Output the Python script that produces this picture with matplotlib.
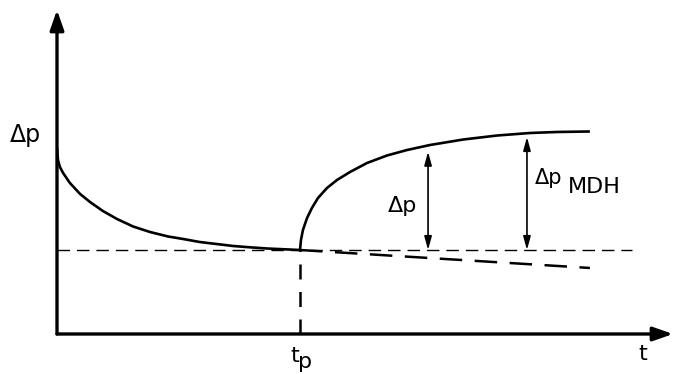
import matplotlib.pyplot as plt

plt.rcParams["font.family"] = ["DejaVu Sans"]

# drawdown period: pressure change vs time (t in units of tp)
t_draw = [0.0, 0.004, 0.012, 0.025, 0.053, 0.095, 0.136, 0.189, 0.247,
          0.313, 0.383, 0.457, 0.519, 0.588, 0.724, 0.794, 0.864, 1.0]
dp_draw = [2.214, 2.071, 1.988, 1.917, 1.798, 1.667, 1.571, 1.464, 1.369,
           1.280, 1.214, 1.161, 1.131, 1.095, 1.048, 1.032, 1.018, 1.0]

# build-up after shut-in at tp
t_build = [1.0, 1.004, 1.012, 1.029, 1.049, 1.074, 1.111, 1.152, 1.206,
           1.276, 1.358, 1.440, 1.535, 1.671, 1.811, 1.947, 2.058, 2.193]
dp_build = [1.0, 1.119, 1.238, 1.381, 1.5, 1.619, 1.738, 1.833, 1.929,
            2.036, 2.125, 2.190, 2.25, 2.315, 2.363, 2.393, 2.405, 2.411]

dp_ref = 1.0            # pressure change at tp
t_ref_end = 2.366       # end of horizontal reference line
t_extrap = [1.0, 2.193]
dp_extrap = [1.0, 0.786]

t_arrow_dp, dp_arrow_top = 1.527, 2.17
t_arrow_mdh, dp_mdh_top = 1.934, 2.345

fig = plt.figure(figsize=(6.74, 3.74), dpi=100)
ax = fig.add_axes([57 / 674, 40 / 374, 617 / 674, 334 / 374])
ax.set_xlim(0, 617 / 243)
ax.set_ylim(0, 334 / 84)
ax.axis("off")

# axes with arrow heads
axis_style = dict(arrowstyle="-|>,head_length=1.2,head_width=0.42",
                  color="black", lw=2.4, shrinkA=0, shrinkB=0)
ax.annotate("", xy=(0, 324 / 84), xytext=(0, 0),
            arrowprops=axis_style, annotation_clip=False)
ax.annotate("", xy=(616 / 243, 0), xytext=(0, 0),
            arrowprops=axis_style, annotation_clip=False)

# curves
ax.plot(t_draw, dp_draw, color="black", lw=1.9, solid_capstyle="butt")
ax.plot(t_build, dp_build, color="black", lw=1.9, solid_capstyle="butt")

# reference lines
ax.plot([0, t_ref_end], [dp_ref, dp_ref], color="black", lw=1.0,
        dashes=(9, 5))
ax.plot(t_extrap, dp_extrap, color="black", lw=1.8, dashes=(9, 5))
ax.plot([1.0, 1.0], [0, dp_ref], color="black", lw=1.8, dashes=(6, 5))

# double-headed arrows
dbl = dict(arrowstyle="<|-|>,head_length=0.8,head_width=0.22",
           color="black", lw=1.2, shrinkA=0, shrinkB=0)
ax.annotate("", xy=(t_arrow_dp, dp_arrow_top), xytext=(t_arrow_dp, dp_ref),
            arrowprops=dbl)
ax.annotate("", xy=(t_arrow_mdh, dp_mdh_top), xytext=(t_arrow_mdh, dp_ref),
            arrowprops=dbl)

# labels
kw = dict(ha="left", va="baseline", clip_on=False)
ax.text(-0.193, 2.286, "Δp", fontsize=17, **kw)
ax.text(1.362, 1.452, "Δp", fontsize=16, **kw)
ax.text(1.967, 1.786, "Δp", fontsize=15, **kw)
ax.text(2.103, 1.679, "MDH", fontsize=16, **kw)
ax.text(0.960, -0.333, "t", fontsize=16, **kw)
ax.text(0.993, -0.40, "p", fontsize=16, **kw)
ax.text(2.391, -0.310, "t", fontsize=16, **kw)

fig.savefig("out.png", dpi=100)
